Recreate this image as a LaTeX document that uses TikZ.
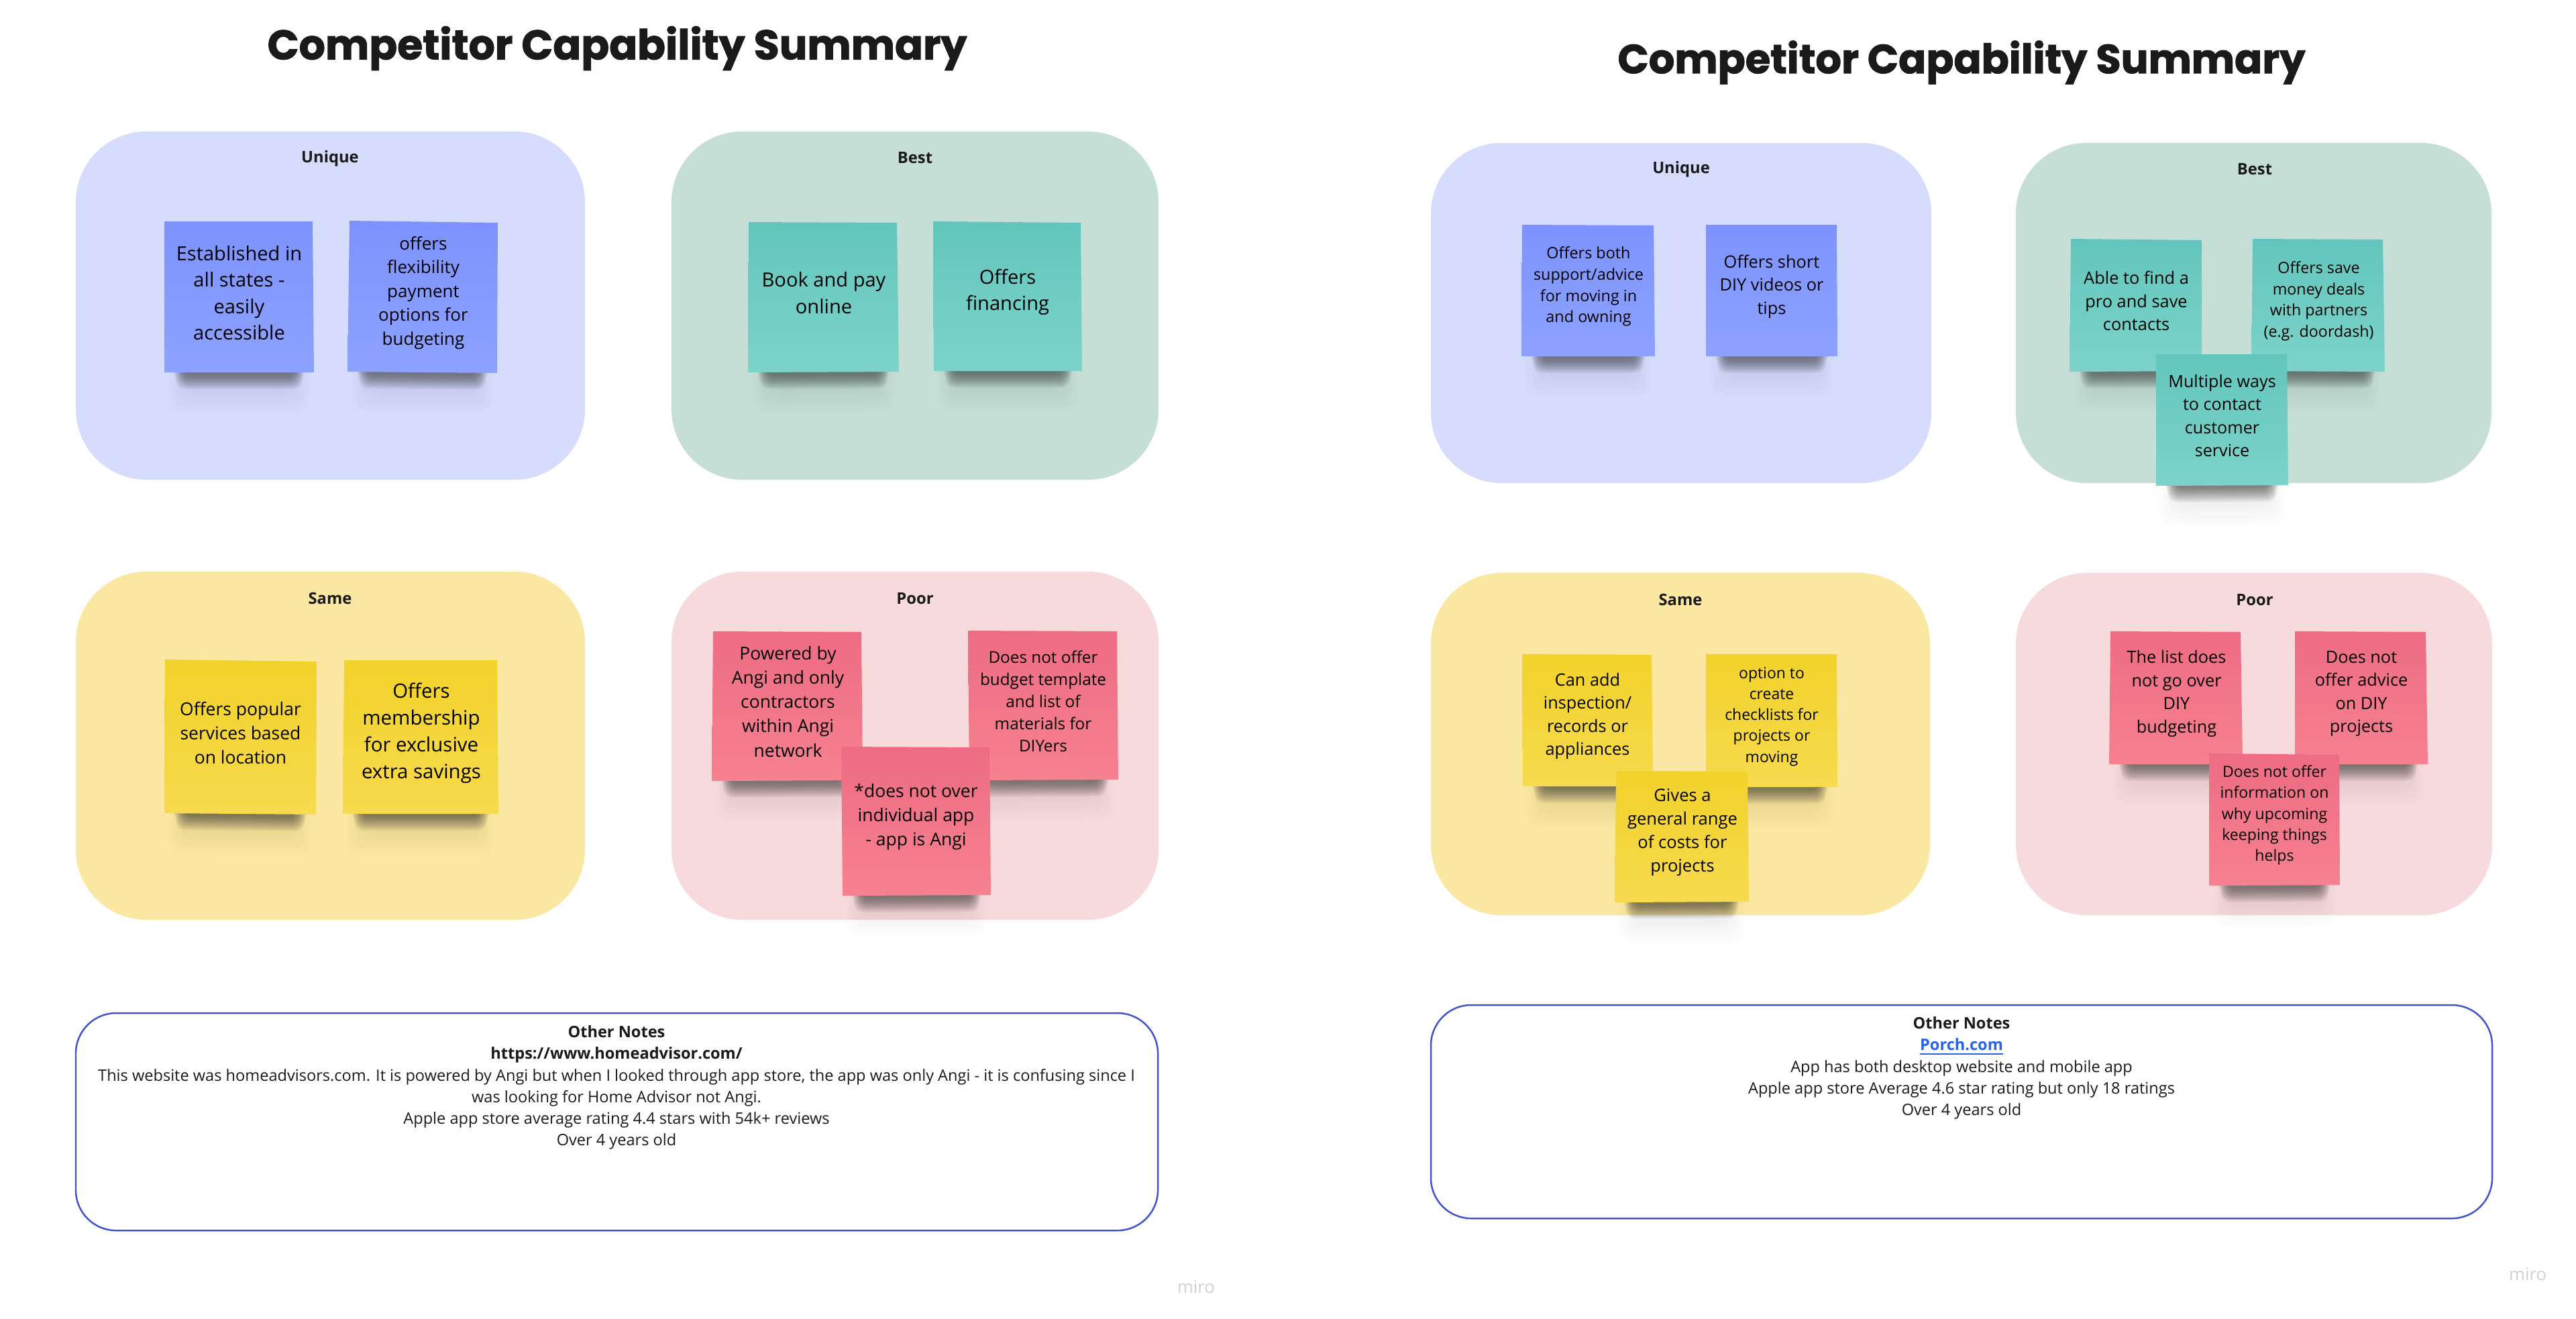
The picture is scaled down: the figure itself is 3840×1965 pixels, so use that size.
\documentclass[tikz,border=0pt]{standalone}
\usepackage{fontspec}
\setmainfont{Open Sans}
\newfontfamily\titlefont[BoldFeatures={FakeBold=1.6}]{Poppins}
\usetikzlibrary{calc}
\definecolor{bgU}{HTML}{D6DDFC}
\definecolor{bgB}{HTML}{C5DFD7}
\definecolor{bgS}{HTML}{FAE7A1}
\definecolor{bgP}{HTML}{F7DADC}
\definecolor{edgeN}{HTML}{4152CC}
\definecolor{linkB}{HTML}{2B63E8}
\definecolor{inkT}{HTML}{1A1A1A}
\newcommand\pxfont[1]{\fontsize{\the\dimexpr #1pt*2092/10000\relax}{\the\dimexpr #1pt*2845/10000\relax}\selectfont}
\tikzset{
  x=0.01cm,y=-0.01cm,
  panel/.style={fill=#1,draw=none,rounded corners=1.05cm},
  notebox/.style={draw=edgeN,line width=0.7pt,fill=white,rounded corners=0.6cm},
  head/.style={font=\pxfont{32.3}\bfseries,text=inkT,inner sep=0pt},
  bigtitle/.style={font=\fontsize{17.55pt}{22pt}\selectfont\titlefont\bfseries,text=inkT,inner sep=0pt},
  notetext/.style={font=\fontsize{6.7pt}{9.19pt}\selectfont,align=center,text=inkT,inner sep=0pt},
  brand/.style={font=\pxfont{35},text=black!18,inner sep=0pt},
}
\definecolor{blueT}{HTML}{7C93FE}\definecolor{blueB}{HTML}{8DA2FF}
\definecolor{tealT}{HTML}{62C6BE}\definecolor{tealB}{HTML}{7DD3C9}
\definecolor{yelT}{HTML}{F2D22A}\definecolor{yelB}{HTML}{F7DA4E}
\definecolor{pinkT}{HTML}{EE6C84}\definecolor{pinkB}{HTML}{F6818F}
% name, colour stem, TL, TR, BR, BL, line spacing, text
\newcommand\stick[8]{%
  \coordinate (#1tl) at (#3);\coordinate (#1tr) at (#4);\coordinate (#1br) at (#5);\coordinate (#1bl) at (#6);
  \foreach \i in {0,...,11}{%
    \pgfmathsetmacro\ii{24-1.1*\i}\pgfmathsetmacro\jj{\ii+8}\pgfmathsetmacro\hh{4+1.9*\i}%
    \fill[black,opacity=.045,rounded corners=0.1cm] ($(#1bl)+(\ii,-12)$) -- ($(#1br)+(-\ii,-12)$) -- ($(#1br)+(-\jj,\hh)$) -- ($(#1bl)+(\jj,\hh)$) -- cycle;
  }%
  \foreach \i in {0,...,7}{%
    \pgfmathsetmacro\ii{30-3.5*\i}\pgfmathsetmacro\hh{26+5*\i}%
    \fill[black,opacity=.006,rounded corners=0.2cm] ($(#1bl)+(\ii,-25)$) -- ($(#1br)+(-\ii,-25)$) -- ($(#1br)+(-\ii,\hh)$) -- ($(#1bl)+(\ii,\hh)$) -- cycle;
  }%
  \shade[top color=#2T,bottom color=#2B] (#1tl) -- (#1tr) -- (#1br) -- (#1bl) -- cycle;
  \node[font=\pxfont{#7},align=center,text=black,inner sep=0pt] (#1) at ($($(#1tl)!.5!(#1br)$)+(0,-6)$) {#8};
}
\begin{document}
\begin{tikzpicture}
\useasboundingbox (0,0) rectangle (3840,1965);
\fill[white] (0,0) rectangle (3840,1965);
% LEFT
\node[bigtitle] (t1) at (920,72) {Competitor Capability Summary};
\fill[panel=bgU] (113,196) rectangle (872,715);
\fill[panel=bgB] (1001,196) rectangle (1727,715);
\fill[panel=bgS] (113,852) rectangle (872,1371);
\fill[panel=bgP] (1001,852) rectangle (1727,1371);
\node[head] (l1) at (492,236) {Unique};
\node[head] (l2) at (1364,235) {Best};
\node[head] (l3) at (492,892) {Same};
\node[head] (l4) at (1364,892) {Poor};
\stick{a1}{blue}{245,330}{466,330}{468,555}{245,555}{39.5}{Established in\\all states -\\easily\\accessible}
\stick{a2}{blue}{521,329}{742,332}{741,556}{518,554}{35.4}{offers\\flexibility\\payment\\options for\\budgeting}
\stick{a3}{teal}{1116,331}{1337,332}{1340,554}{1115,555}{39.5}{Book and pay\\online}
\stick{a4}{teal}{1391,330}{1611,332}{1613,553}{1392,553}{39.5}{Offers\\financing}
\stick{a5}{yel}{246,983}{472,986}{471,1214}{245,1212}{36}{Offers popular\\services based\\on location}
\stick{a6}{yel}{513,984}{741,984}{743,1213}{511,1213}{40}{Offers\\membership\\for exclusive\\extra savings}
\stick{a7}{pink}{1063,941}{1284,942}{1286,1163}{1061,1164}{36}{Powered by\\Angi and only\\contractors\\within Angi\\network}
\stick{a8}{pink}{1443,940}{1665,941}{1667,1162}{1445,1163}{33}{Does not offer\\budget template\\and list of\\materials for\\DIYers}
\stick{a9}{pink}{1254,1113}{1475,1114}{1477,1334}{1256,1335}{36}{*does not over\\individual app\\- app is Angi}
\draw[notebox] (113,1510) rectangle (1726,1834);
\node[notetext] (n1) at (919,1621) {\textbf{Other Notes}\\\textbf{https://www.homeadvisor.com/}\\This website was homeadvisors.com. It is powered by Angi but when I looked through app store, the app was only Angi - it is confusing since I\\was looking for Home Advisor not Angi.\\Apple app store average rating 4.4 stars with 54k+ reviews\\Over 4 years old};
\node[brand] (m1) at (1783,1918) {miro};
% RIGHT
\node[bigtitle] (t2) at (2924,93) {\scalebox{.983}{Competitor Capability Summary}};
\fill[panel=bgU] (2133,213) rectangle (2879,720);
\fill[panel=bgB] (3005,213) rectangle (3714,720);
\fill[panel=bgS] (2133,854) rectangle (2877,1364);
\fill[panel=bgP] (3005,854) rectangle (3715,1364);
\node[head] (r1) at (2506,252) {Unique};
\node[head] (r2) at (3361,252) {Best};
\node[head] (r3) at (2505,894) {Same};
\node[head] (r4) at (3361,894) {Poor};
\stick{b1}{blue}{2269,335}{2465,336}{2467,531}{2268,531}{31.8}{Offers both\\support/advice\\for moving in\\and owning}
\stick{b2}{blue}{2543,335}{2738,335}{2739,531}{2543,531}{34.5}{Offers short\\DIY videos or\\tips}
\stick{b3}{teal}{3087,356}{3282,358}{3282,553}{3085,554}{34.5}{Able to find a\\pro and save\\contacts}
\stick{b4}{teal}{3358,356}{3552,357}{3555,554}{3356,553}{31.6}{Offers save\\money deals\\with partners\\(e.g. doordash)}
\stick{b5}{teal}{3214,528}{3409,528}{3411,723}{3214,724}{34.2}{Multiple ways\\to contact\\customer\\service}
\stick{b6}{yel}{2269,975}{2462,976}{2464,1172}{2270,1172}{34.4}{Can add\\inspection/\\records or\\appliances}
\stick{b7}{yel}{2543,975}{2738,975}{2739,1173}{2543,1173}{31.2}{option to\\create\\checklists for\\projects or\\moving}
\stick{b8}{yel}{2409,1149}{2605,1150}{2607,1344}{2407,1345}{34.8}{Gives a\\general range\\of costs for\\projects}
\stick{b9}{pink}{3146,941}{3340,942}{3343,1139}{3144,1139}{34.4}{The list does\\not go over\\DIY\\budgeting}
\stick{b10}{pink}{3421,941}{3616,942}{3619,1139}{3421,1139}{34.4}{Does not\\offer advice\\on DIY\\projects}
\stick{b11}{pink}{3293,1123}{3487,1125}{3488,1319}{3293,1320}{31.4}{Does not offer\\information on\\why upcoming\\keeping things\\helps}
\draw[notebox] (2133,1498) rectangle (3715,1816);
\node[notetext] (n2) at (2924,1592) {\textbf{Other Notes}\\\textbf{\textcolor{linkB}{\underline{Porch.com}}}\\App has both desktop website and mobile app\\Apple app store Average 4.6 star rating but only 18 ratings\\Over 4 years old};
\node[brand] (m2) at (3768,1899) {miro};
\end{tikzpicture}
\end{document}
